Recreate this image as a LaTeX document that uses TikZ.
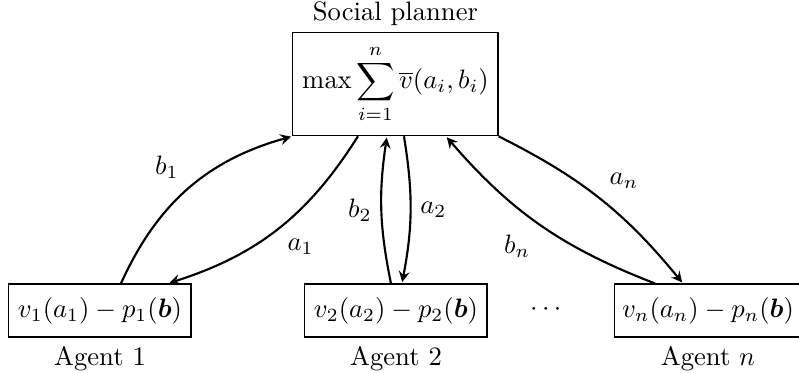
\documentclass[tikz,border=0pt]{standalone}
\usepackage{amsmath}
\usepackage{amssymb}
\usepackage{bm}
\usepackage{tikz}
\tikzstyle{agent}=[draw, rectangle, inner xsep=3pt, inner ysep=4.8pt, minimum width=2.402cm, minimum height=0.699cm]
\tikzstyle{planner}=[draw, rectangle, inner xsep=3pt, inner ysep=4.8pt, minimum width=2.705cm, minimum height=1.24cm]
\tikzstyle{msg}=[thick,-stealth,shorten >=0.5pt]
\tikzstyle{labelsty}=[auto]

\begin{document}
\begin{tikzpicture}[x=0.9615cm,y=0.9615cm]
	\useasboundingbox (0,0) rectangle (10.965,5.132);
	
	\node[planner,label={[label distance=-1.5pt]above:Social planner}] (sp) at (5.427,3.980) {$\displaystyle\max\sum_{i=1}^{n}\overline{v}(a_i,b_i)$};
	\node[agent,label=below:Agent 1] (ag1) at (1.372,0.871) {$v_1(a_1)-p_1(\bm{b})$};
	\node[agent,label=below:Agent 2] (ag2) at (5.434,0.871) {$v_2(a_2)-p_2(\bm{b})$};
	\node (dots) at (7.520,0.878) {$\cdots$};
	\node[agent,label=below:Agent $n$] (agn) at (9.716,0.871) {$v_n(a_n)-p_n(\bm{b})$};
	
	\draw ([xshift=0.277cm]ag1.north) edge [msg,bend left=25] node[labelsty]{$b_1$} (sp.south west);
	\draw ([xshift=-0.495cm]sp.south) edge [msg,bend left=20] node[labelsty]{$a_1$} ([xshift=0.897cm]ag1.north);
	\draw ([xshift=-0.066cm]ag2.north) edge [msg,bend left=10] node[labelsty]{$b_2$} ([xshift=-0.112cm]sp.south);
	\draw ([xshift=0.112cm]sp.south) edge [msg,bend left=10] node[labelsty]{$a_2$} ([xshift=0.079cm]ag2.north);
	\draw (sp.south east) edge [msg,bend left=12] node[labelsty]{$a_n$} ([xshift=-0.330cm]agn.north);
	\draw ([xshift=-0.699cm]agn.north) edge [msg,bend left=14] node[labelsty]{$b_n$} ([xshift=0.666cm]sp.south);
\end{tikzpicture}
\end{document}
